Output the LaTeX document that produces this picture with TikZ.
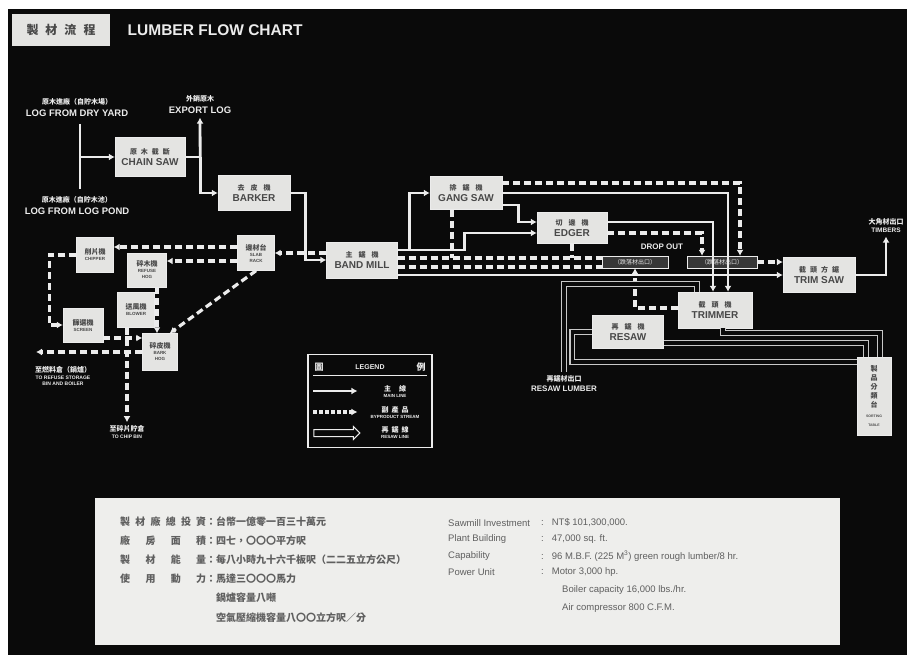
\documentclass[tikz,border=0pt]{standalone}
\usepackage{fontspec}
\setmainfont{Liberation Sans}
\newfontfamily\cjk{Noto Sans CJK TC}
\usetikzlibrary{positioning, arrows.meta, shapes.arrows}
\definecolor{BoardBlack}{RGB}{10,10,10}
\definecolor{ChalkWhite}{RGB}{236,236,236}
\definecolor{BoxFill}{RGB}{228,228,226}
\definecolor{InkGray}{RGB}{72,72,72}
\definecolor{PanelInk}{RGB}{95,95,95}
\definecolor{ResawGray}{RGB}{200,200,200}
\definecolor{DropGray}{RGB}{55,55,55}
\definecolor{PanelWhite}{RGB}{238,238,236}
\newcommand{\cjklabel}[1]{{\cjk\fontsize{7}{8}\selectfont #1}}

\begin{document}
\begin{tikzpicture}[x=1pt, y=-1pt,
    machine/.style={draw=ChalkWhite, fill=BoxFill, text=InkGray,
      minimum width=72pt, minimum height=35pt, inner sep=1pt,
      align=center, font=\bfseries\fontsize{10}{11}\selectfont},
    minibox/.style={machine, minimum width=37pt, minimum height=35pt,
      font=\bfseries\fontsize{4.5}{6}\selectfont},
    dropbox/.style={draw=ChalkWhite, fill=DropGray, text=ChalkWhite,
      minimum width=66pt, minimum height=12pt, inner sep=0pt,
      font=\cjk\fontsize{6}{6}\selectfont},
    lbl/.style={text=ChalkWhite, align=center,
      font=\bfseries\fontsize{9.5}{12}\selectfont},
    mainline/.style={draw=ChalkWhite, line width=2.8pt},
    wasteline/.style={draw=ChalkWhite, line width=3.2pt, dash pattern=on 7pt off 4pt},
    resawline/.style={draw=ResawGray, line width=1.4pt, double=BoardBlack, double distance=3.5pt},
    flowtip/.style={-{Latex[length=6pt,width=7pt]}},
    panelzh/.style={text=PanelInk, anchor=west, inner sep=0pt,
      font=\cjk\bfseries\fontsize{10}{10}\selectfont},
    panelen/.style={text=PanelInk, anchor=west, inner sep=0pt,
      font=\fontsize{9.5}{10}\selectfont}]

  \useasboundingbox (0,0) rectangle (907,655);
  \fill[white] (0,0) rectangle (907,655);
  \fill[BoardBlack] (8,9) rectangle (907,655);

  % title
  \node[fill=BoxFill, text=InkGray, minimum width=98pt, minimum height=32pt,
        font=\cjk\bfseries\fontsize{12}{12}\selectfont] (titlebox) at (61,30)
        {製\hspace{7pt}材\hspace{7pt}流\hspace{7pt}程};
  \node[lbl, font=\bfseries\fontsize{15.5}{15.5}\selectfont, right=14pt of titlebox] (title) {LUMBER FLOW CHART};

  % log intake
  \node[lbl] (dryyard) at (77,107) {\cjklabel{原木進廠（自貯木場）}\\LOG FROM DRY YARD};
  \node[lbl] (logpond) at (77,205) {\cjklabel{原木進廠（自貯木池）}\\LOG FROM LOG POND};
  \node[lbl] (exportlog) at (200,105) {\cjklabel{外銷原木}\\EXPORT LOG};
  \node[machine, minimum width=70pt, minimum height=39pt] (chain) at (150,157)
        {\cjklabel{原\hspace{4pt}木\hspace{4pt}截\hspace{4pt}斷}\\CHAIN SAW};
  \node[machine] (barker) at (254,193) {\cjklabel{去\hspace{6pt}皮\hspace{6pt}機}\\BARKER};

  % saws
  \node[machine, minimum width=71pt, minimum height=36pt] (bandmill) at (362,260)
        {\cjklabel{主\hspace{6pt}鋸\hspace{6pt}機}\\BAND MILL};
  \node[machine, minimum height=33pt] (gangsaw) at (466,193)
        {\cjklabel{排\hspace{6pt}鋸\hspace{6pt}機}\\GANG SAW};
  \node[machine, minimum width=70pt, minimum height=31pt] (edger) at (572,228)
        {\cjklabel{切\hspace{6pt}邊\hspace{6pt}機}\\EDGER};
  \node[machine] (trimsaw) at (819,275)
        {\cjklabel{截\hspace{4pt}頭\hspace{4pt}方\hspace{4pt}鋸}\\TRIM SAW};
  \node[machine, minimum width=74pt, minimum height=36pt] (trimmer) at (715,310)
        {\cjklabel{截\hspace{6pt}頭\hspace{6pt}機}\\TRIMMER};
  \node[machine, minimum width=71pt, minimum height=33pt] (resaw) at (628,332)
        {\cjklabel{再\hspace{6pt}鋸\hspace{6pt}機}\\RESAW};
  \node[machine, minimum width=34pt, minimum height=78pt, font=\bfseries\fontsize{7}{9}\selectfont] (sorting) at (874,396)
        {{\cjk 製}\\{\cjk 品}\\{\cjk 分}\\{\cjk 類}\\{\cjk 台}\\[1pt]{\fontsize{3.5}{4}\selectfont SORTING}\\{\fontsize{3.5}{4}\selectfont TABLE}};

  % refuse handling
  \node[minibox] (chipper) at (95,255) {\cjklabel{削片機}\\CHIPPER};
  \node[minibox, minimum width=39pt, minimum height=34pt] (refusehog) at (147,270) {\cjklabel{碎木機}\\REFUSE\\HOG};
  \node[minibox] (slab) at (256,253) {\cjklabel{邊材台}\\SLAB\\RACK};
  \node[minibox, minimum width=40pt, minimum height=34pt] (screen) at (83,325) {\cjklabel{篩選機}\\SCREEN};
  \node[minibox] (blower) at (136,310) {\cjklabel{送風機}\\BLOWER};
  \node[minibox, minimum width=35pt, minimum height=37pt] (barkhog) at (160,352) {\cjklabel{碎皮機}\\BARK\\HOG};

  \node[dropbox] (dropA) at (635,262) {（跌落材出口）};
  \node[dropbox, minimum width=70pt] (dropB) at (722,262) {（跌落材出口）};

  % free labels
  \node[lbl, font=\bfseries\fontsize{8}{9}\selectfont] (dropout) at (662,247) {DROP OUT};
  \node[lbl, font=\bfseries\fontsize{6.5}{8}\selectfont] (timbers) at (886,226) {\cjklabel{大角材出口}\\TIMBERS};
  \node[lbl, font=\bfseries\fontsize{8}{10}\selectfont] (resawlumber) at (564,384) {\cjklabel{再鋸材出口}\\RESAW LUMBER};
  \node[lbl, font=\bfseries\fontsize{5}{6.5}\selectfont] (refusebin) at (63,376) {\cjklabel{至燃料倉（鍋爐）}\\TO REFUSE STORAGE\\BIN AND BOILER};
  \node[lbl, font=\bfseries\fontsize{5}{6.5}\selectfont] (chipbin) at (127,432) {\cjklabel{至碎片貯倉}\\TO CHIP BIN};

  % main line
  \coordinate (drytop) at (80,124);
  \coordinate (pondbot) at (80,189);
  \draw[mainline] (drytop) -- (pondbot);
  \draw[mainline, flowtip] (drytop |- chain) -- (chain.west);
  \draw[mainline] (chain.east) -- ++(15,0) coordinate (exportjoin);
  \draw[mainline, flowtip] (exportjoin) -- (exportlog.south);
  \draw[mainline, flowtip] (exportjoin) |- (barker.west);
  \draw[mainline, flowtip] (barker.east) -- ++(15,0) |- (bandmill.west);
  \draw[mainline] ([yshift=10pt]bandmill.east) -- ++(12,0) coordinate (gangjoin);
  \draw[mainline, flowtip] (gangjoin) |- (gangsaw.west);
  \draw[mainline, flowtip] (gangjoin) -- ++(55,0) |- ([yshift=-5pt]edger.west);
  \draw[mainline, flowtip] (bandmill.east |- trimsaw.west) -- (trimsaw.west);
  \draw[mainline, flowtip] (gangsaw.east) -| ([xshift=13pt]trimmer.north);
  \draw[mainline, flowtip] ([yshift=-12pt]gangsaw.east) -- ++(16,0) |- ([yshift=6pt]edger.west);
  \draw[mainline, flowtip] ([yshift=6pt]edger.east) -| ([xshift=-2pt]trimmer.north);
  \draw[mainline, flowtip] (trimsaw.east) -| (timbers.south);

  % refuse from the saws
  \coordinate (wasteupper) at ([yshift=4pt]dropA.west);
  \coordinate (wastelower) at ([yshift=-5pt]dropA.west);
  \draw[wasteline, flowtip] ([yshift=10pt]gangsaw.east) -| ([xshift=18pt]dropB.north);
  \draw[wasteline] ([xshift=-14pt]gangsaw.south) -- ++(0,48);
  \draw[wasteline] (bandmill.east |- wasteupper) -- (wasteupper);
  \draw[wasteline] (bandmill.east |- wastelower) -- (wastelower);
  \draw[wasteline] (edger.south) -- (edger.south |- wasteupper);
  \draw[wasteline, flowtip] ([yshift=-5pt]edger.east) -| ([xshift=-20pt]dropB.north);
  \draw[wasteline, flowtip] (dropB.east) -- (dropB.east -| trimsaw.west);
  \draw[wasteline, flowtip] ([yshift=2pt]trimmer.west) -| (dropA.south);

  % refuse to the hogs
  \coordinate (slabin) at ([yshift=7pt]bandmill.west);
  \coordinate (chipout) at ([yshift=6pt]slab.west);
  \coordinate (hogout) at ([yshift=-8pt]slab.west);
  \coordinate (screenout) at ([yshift=-13pt]screen.east);
  \coordinate (hogdrop) at ([xshift=10pt]refusehog.south);
  \coordinate (chipdrop) at ([xshift=-9pt]blower.south);
  \coordinate (refuseend) at (36,352);
  \draw[wasteline, flowtip] (slabin) -- (slabin -| slab.east);
  \draw[wasteline, flowtip] (chipout) -- (chipout -| chipper.east);
  \draw[wasteline, flowtip] (hogout) -- (hogout -| refusehog.east);
  \draw[wasteline, flowtip] (slab.south) -- ([xshift=-8pt]barkhog.north east);
  \draw[wasteline, flowtip] (chipper.west) -- ++(-27,0) |- (screen.west);
  \draw[wasteline, flowtip] (screenout) -- (screenout -| barkhog.west);
  \draw[wasteline, flowtip] (hogdrop) -- (hogdrop |- barkhog.north);
  \draw[wasteline, flowtip] (barkhog.west) -- (refuseend);
  \draw[wasteline, flowtip] (chipdrop) -- (chipdrop |- chipbin.north);

  % resaw lines
  \coordinate (resawin) at ([xshift=-20pt]resaw.west);
  \draw[resawline] ([xshift=8pt]trimmer.south) -- ++(0,5) -| ([xshift=6pt]sorting.north);
  \draw[resawline] ([yshift=-11pt]resaw.east) -| ([xshift=-8pt]sorting.north);
  \draw[resawline] ([yshift=34pt]sorting.west) -| (resawin) -- (resaw.west);
  \draw[resawline] ([xshift=-18pt]trimmer.north) -- ++(0,-8) -| (resawlumber.north);

  % legend
  \node[draw=ChalkWhite, line width=1.2pt, minimum width=124pt, minimum height=93pt] (legend) at (370,401) {};
  \node[lbl, font=\bfseries\fontsize{7}{8}\selectfont] (legtitle) at (370,367) {LEGEND};
  \node[lbl, font=\cjk\bfseries\fontsize{9}{9}\selectfont] (legleft) at (319,367) {圖};
  \node[lbl, font=\cjk\bfseries\fontsize{9}{9}\selectfont] (legright) at (421,367) {例};
  \draw[ChalkWhite, line width=1pt] ([xshift=6pt,yshift=-22pt]legend.north west) -- ([xshift=-6pt,yshift=-22pt]legend.north east);
  \node[lbl, font=\bfseries\fontsize{4.5}{6}\selectfont] (legmain) at (395,391) {\cjklabel{主\hspace{8pt}線}\\MAIN LINE};
  \node[lbl, font=\bfseries\fontsize{4.5}{6}\selectfont] (legby) at (395,412) {\cjklabel{副\hspace{3pt}產\hspace{3pt}品}\\BYPRODUCT STREAM};
  \node[lbl, font=\bfseries\fontsize{4.5}{6}\selectfont] (legresaw) at (395,433) {\cjklabel{再\hspace{3pt}鋸\hspace{3pt}線}\\RESAW LINE};
  \coordinate (legresawstart) at (legend.west |- legresaw);
  \draw[mainline, flowtip] (legend.west |- legmain) ++(6,0) -- ++(44,0);
  \draw[wasteline, dash pattern=on 4pt off 2pt, flowtip] (legend.west |- legby) ++(6,0) -- ++(44,0);
  \node[single arrow, draw=ChalkWhite, fill=BoardBlack, line width=1pt, anchor=west,
        minimum height=46pt, minimum width=12pt, single arrow head extend=3pt, inner sep=3pt]
        (legarrow) at ([xshift=6pt]legresawstart) {};

  % data panel
  \node[fill=PanelWhite, minimum width=745pt, minimum height=147pt, inner sep=0pt] (panel) at (467.5,571.5) {};
  \node[panelzh] (zhinvest) at (120,522) {\makebox[86pt][s]{製\hfill 材\hfill 廠\hfill 總\hfill 投\hfill 資}：台幣一億零一百三十萬元};
  \node[panelzh] (zhplant) at (120,541) {\makebox[86pt][s]{廠\hfill 房\hfill 面\hfill 積}：四七，〇〇〇平方呎};
  \node[panelzh] (zhcap) at (120,560) {\makebox[86pt][s]{製\hfill 材\hfill 能\hfill 量}：每八小時九十六千板呎（二二五立方公尺）};
  \node[panelzh] (zhpower) at (120,579) {\makebox[86pt][s]{使\hfill 用\hfill 動\hfill 力}：馬達三〇〇〇馬力};
  \node[panelzh] (zhboiler) at (216,598) {鍋爐容量八噸};
  \node[panelzh] (zhair) at (216,618) {空氣壓縮機容量八〇〇立方呎／分};

  \node[panelen] (eninvest) at (448,523) {Sawmill Investment};
  \node[panelen] (eninvestv) at (541,523) {:\hspace{8pt}NT\$ 101,300,000.};
  \node[panelen] (enplant) at (448,539) {Plant Building};
  \node[panelen] (enplantv) at (541,539) {:\hspace{8pt}47,000 sq. ft.};
  \node[panelen] (encap) at (448,556) {Capability};
  \node[panelen] (encapv) at (541,556) {:\hspace{8pt}96 M.B.F. (225 M\textsuperscript{3}) green rough lumber/8 hr.};
  \node[panelen] (enpower) at (448,572) {Power Unit};
  \node[panelen] (enpowerv) at (541,572) {:\hspace{8pt}Motor 3,000 hp.};
  \node[panelen] (enboiler) at (562,590) {Boiler capacity 16,000 lbs./hr.};
  \node[panelen] (enair) at (562,608) {Air compressor 800 C.F.M.};
\end{tikzpicture}
\end{document}
